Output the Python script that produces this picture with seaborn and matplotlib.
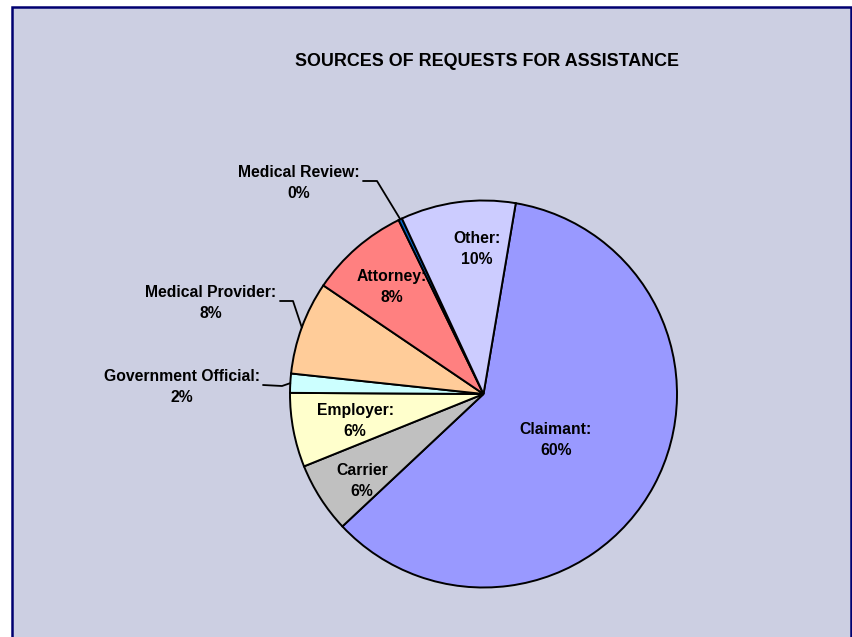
import numpy as np
import seaborn as sns
import matplotlib.pyplot as plt
from matplotlib.patches import Rectangle

# data (share of requests, %), clockwise from the top
categories = ["Claimant", "Carrier", "Employer", "Government Official",
              "Medical Provider", "Attorney", "Medical Review", "Other"]
values = [60.4, 5.9, 6.2, 1.6, 7.8, 8.3, 0.3, 9.6]
label_heads = ["Claimant:", "Carrier", "Employer:", "Government Official:",
               "Medical Provider:", "Attorney:", "Medical Review:", "Other:"]
colors = ["#9999FF", "#C0C0C0", "#FFFFCC", "#CCFFFF",
          "#FFCC99", "#FF8080", "#0066CC", "#CCCCFF"]
title = "SOURCES OF REQUESTS FOR ASSISTANCE"

# layout (pixels in the 853x637 picture)
W, H = 853, 637
CX, CY, R = 483.5, 394.0, 193.5
label_pos = {
    "Claimant": (556, 440), "Carrier": (362, 481), "Employer": (355, 421),
    "Government Official": (182, 387), "Medical Provider": (211, 303),
    "Attorney": (392, 287), "Medical Review": (299, 183), "Other": (477, 249),
}
# outside labels get a leader line: start of line, elbow
leaders = {
    "Medical Review": ((363, 181), (377, 181)),
    "Medical Provider": ((280, 301), (293, 301)),
    "Government Official": ((263, 385), (282, 386)),
}


def px(x, y):
    return (x - CX) / R, (CY - y) / R


sns.set_theme(style="white")
plt.rcParams["font.family"] = ["Liberation Sans", "DejaVu Sans"]

fig = plt.figure(figsize=(W / 100, H / 100), dpi=100, facecolor="white")
# chart area with navy frame
fig.patches.append(Rectangle((12 / W, -0.05), (851 - 12) / W, 1.05 - 7 / H,
                             transform=fig.transFigure, facecolor="#CCCFE2",
                             edgecolor="#000070", linewidth=1.8, zorder=-1))

ax = fig.add_axes([0, 0, 1, 1])
ax.set_zorder(1)
ax.set_facecolor("none")
pal = sns.color_palette(colors)
wedges, _ = ax.pie(values, colors=pal, startangle=80.4, counterclock=False,
                   radius=1, center=(0, 0),
                   wedgeprops=dict(edgecolor="black", linewidth=1.4))

total = sum(values)
for w, cat, head, v in zip(wedges, categories, label_heads, values):
    pct = round(v / total * 100)
    x, y = px(*label_pos[cat])
    ax.text(x, y, f"{head}\n{pct}%", ha="center", va="center",
            fontsize=11.3, fontweight="bold", linespacing=1.5, color="black")
    if cat in leaders:
        mid = np.deg2rad((w.theta1 + w.theta2) / 2)
        (sx, sy), (ex, ey) = leaders[cat]
        p0, p1 = px(sx, sy), px(ex, ey)
        ax.plot([p0[0], p1[0], np.cos(mid)], [p0[1], p1[1], np.sin(mid)],
                color="black", linewidth=1.3)

tx, ty = px(487, 62)
ax.text(tx, ty, title, ha="center", va="center", fontsize=12.85,
        fontweight="bold", color="black")

ax.set_aspect("auto")
ax.set_xlim(-CX / R, (W - CX) / R)
ax.set_ylim((CY - H) / R, CY / R)
ax.axis("off")

fig.savefig("out.png", dpi=100, facecolor="white")
